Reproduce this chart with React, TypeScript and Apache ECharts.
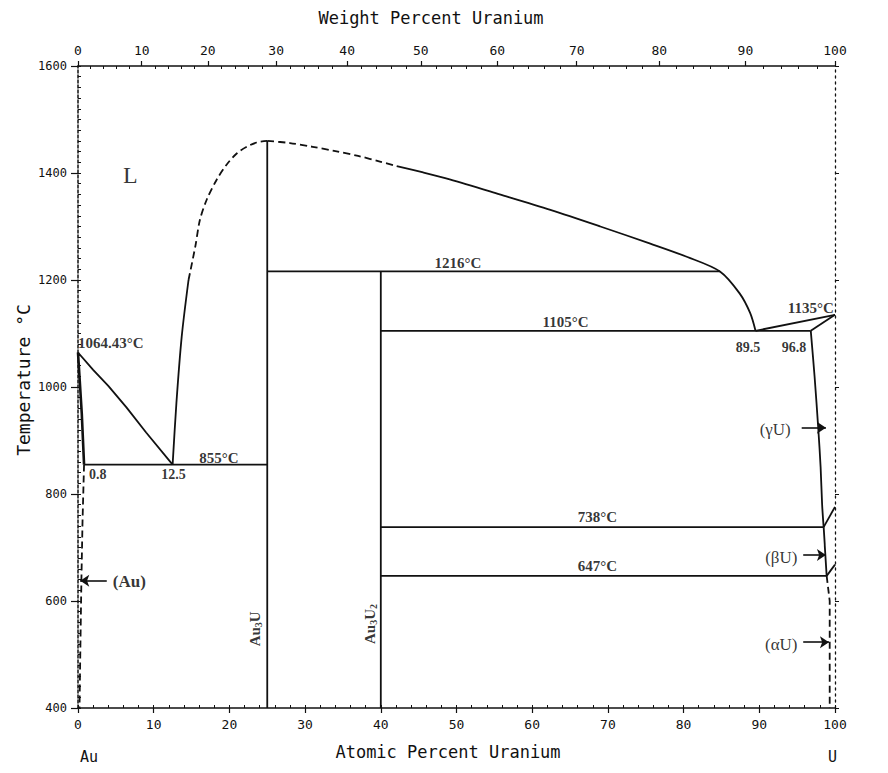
import React, { useEffect, useRef } from "react";
import * as echarts from "echarts";

// Atomic masses used to convert atomic % to weight % for the top axis
const M_AU = 196.97;
const M_U = 238.03;
const atFromWt = (w: number) => {
  if (w <= 0) return 0;
  if (w >= 100) return 100;
  const a = w / M_U;
  const b = (100 - w) / M_AU;
  return (100 * a) / (a + b);
};
const wtFromAt = (x: number) => {
  const a = x * M_U;
  const b = (100 - x) * M_AU;
  return (100 * a) / (a + b);
};

// Tick values
const weightTicks = [0, 10, 20, 30, 40, 50, 60, 70, 80, 90, 100];
const weightMinorTicks = [2, 4, 6, 8, 12, 14, 16, 18, 22, 24, 26, 28, 32, 34, 36, 38, 42, 44, 46, 48, 52, 54, 56, 58, 62, 64, 66, 68, 72, 74, 76, 78, 82, 84, 86, 88, 92, 94, 96, 98];

// Phase boundaries [atomic % U, temperature °C]
const auLiquidus = [[0, 1064.43], [2, 1032], [4, 1002], [6.4, 962], [9, 915], [12.5, 855]];
const auSolidus = [[0, 1064.43], [0.5, 950], [0.8, 855]];
const auSolvus = [[0.8, 855], [0.6, 750], [0.45, 640], [0.3, 500], [0.2, 400]];
const eutectic855 = [[0.8, 855], [25, 855]];
const au3uLiquidusSolid = [[12.5, 855], [13.0, 970], [13.7, 1094], [14.6, 1200]];
const au3uLiquidusDashed = [[14.6, 1200], [15.5, 1263], [16.1, 1312], [17.0, 1350], [18.3, 1387], [19.6, 1415], [21, 1437], [22.3, 1449], [23.6, 1457], [25, 1460]];
const au3uLine = [[25, 1460], [25, 400]];
const liquidusRightDashed = [[25, 1460], [28, 1456], [31, 1449], [34, 1441], [37, 1432], [40, 1421], [42.1, 1413]];
const liquidusRight = [[42.1, 1413], [45.6, 1401], [49.1, 1388], [55.7, 1360], [62.4, 1331], [69, 1300], [75.6, 1268], [80.5, 1243], [84.8, 1216], [87.4, 1175], [88.8, 1138], [89.5, 1105]];
const peritectic1216 = [[25, 1216], [84.8, 1216]];
const au3u2Line = [[40, 1216], [40, 400]];
const eutectic1105 = [[40, 1105], [96.8, 1105]];
const uLiquidus = [[89.5, 1105], [100, 1135]];
const uSolidus = [[96.8, 1105], [100, 1135]];
const gammaSolvus = [[96.8, 1105], [97.3, 1020], [97.8, 920], [98.1, 850], [98.3, 780], [98.5, 738]];
const eutectoid738 = [[40, 738], [98.5, 738]];
const gammaBeta = [[98.5, 738], [100, 776]];
const betaSolvus = [[98.5, 738], [98.9, 647]];
const eutectoid647 = [[40, 647], [98.9, 647]];
const betaAlpha = [[98.9, 647], [100, 668]];
const alphaSolvus = [[98.9, 647], [99.3, 600], [99.3, 400]];

// Annotation texts and their anchor in data coordinates
const annotations = [
  { text: "L", at: [6.9, 1396], size: 24, align: "center", bold: false },
  { text: "1064.43°C", at: [0, 1082], size: 15, align: "left", bold: true },
  { text: "0.8", at: [2.6, 836], size: 14, align: "center", bold: true },
  { text: "12.5", at: [12.6, 836], size: 14, align: "center", bold: true },
  { text: "855°C", at: [18.6, 867], size: 15, align: "center", bold: true },
  { text: "1216°C", at: [50.2, 1232], size: 15, align: "center", bold: true },
  { text: "1105°C", at: [64.4, 1121], size: 15, align: "center", bold: true },
  { text: "89.5", at: [88.5, 1074], size: 14, align: "center", bold: true },
  { text: "96.8", at: [94.6, 1074], size: 14, align: "center", bold: true },
  { text: "1135°C", at: [96.8, 1148], size: 15, align: "center", bold: true },
  { text: "(γU)", at: [92.1, 920], size: 17, align: "center", bold: false },
  { text: "738°C", at: [68.6, 757], size: 15, align: "center", bold: true },
  { text: "647°C", at: [68.6, 665], size: 15, align: "center", bold: true },
  { text: "776°C", at: [100.9, 766], size: 14, align: "left", bold: true },
  { text: "668°C", at: [101.0, 671], size: 14, align: "left", bold: true },
  { text: "(βU)", at: [92.9, 682], size: 17, align: "center", bold: false },
  { text: "(αU)", at: [92.9, 518], size: 17, align: "center", bold: false },
  { text: "(Au)", at: [4.6, 637], size: 17, align: "left", bold: true },
];
const compounds = [
  { parts: ["Au", "3", "U"], at: [23.4, 548] },
  { parts: ["Au", "3", "U", "2"], at: [38.6, 557] },
];
const arrows = [
  { from: [95.6, 924], to: [98.8, 924] },
  { from: [95.8, 686], to: [98.8, 686] },
  { from: [95.8, 523], to: [99.2, 523] },
  { from: [3.8, 638], to: [0.3, 638] },
];

const INK = "#111";
const SERIF = "Liberation Serif";
const MONO = "DejaVu Sans Mono";

const lineSeries = (data: number[][], dashed = false, smooth: number | boolean = false) => ({
  type: "line",
  data,
  xAxisIndex: 0,
  yAxisIndex: 0,
  symbol: "none",
  showSymbol: false,
  smooth,
  silent: true,
  z: 3,
  lineStyle: { color: INK, width: 1.8, type: dashed ? [7, 4] : "solid" },
});

export default function App() {
  const ref = useRef<HTMLDivElement>(null);
  useEffect(() => {
    document.body.style.margin = "0";
    if (!ref.current) return;
    const chart = echarts.init(ref.current, null, { renderer: "svg" });

    const annotationData = annotations.map((a) => ({
      value: a.at,
      name: a.text,
      label: {
        show: true,
        position: "inside",
        align: a.align,
        verticalAlign: "middle",
        formatter: a.text,
        fontFamily: SERIF,
        fontSize: a.size,
        fontWeight: a.bold ? "bold" : "normal",
        color: "#000",
      },
    }));
    const compoundData = compounds.map((c) => ({
      value: c.at,
      name: c.parts.join(""),
      label: {
        show: true,
        position: "inside",
        rotate: 90,
        align: "center",
        verticalAlign: "middle",
        formatter: c.parts.map((p, i) => (i % 2 === 1 ? `{s|${p}}` : `{a|${p}}`)).join(""),
        rich: {
          a: { fontFamily: SERIF, fontSize: 15, fontWeight: "bold", color: "#000" },
          s: { fontFamily: SERIF, fontSize: 10, fontWeight: "bold", color: "#000", padding: [7, 0, 0, 0] },
        },
      },
    }));

    const option: any = {
      animation: false,
      backgroundColor: "#ffffff",
      grid: { left: 78, right: 53, top: 66, bottom: 65, containLabel: false },
      xAxis: [
        {
          type: "value", position: "bottom", min: 0, max: 100, interval: 10,
          axisLine: { show: true, onZero: false, lineStyle: { color: INK, width: 1.5 } },
          axisTick: { show: true, inside: false, length: 5, lineStyle: { color: INK, width: 1.2 } },
          axisLabel: { margin: 10, fontFamily: MONO, fontSize: 13, color: INK },
          splitLine: { show: false },
        },
        {
          type: "value", position: "top", min: 0, max: 100,
          axisLine: { show: true, onZero: false, lineStyle: { color: INK, width: 1.5 } },
          axisTick: { show: true, inside: false, length: 5, customValues: weightTicks.map(atFromWt), lineStyle: { color: INK, width: 1.2 } },
          axisLabel: {
            customValues: weightTicks.map(atFromWt), margin: 9, fontFamily: MONO, fontSize: 13, color: INK,
            formatter: (v: number) => String(Math.round(wtFromAt(v))),
          },
          splitLine: { show: false },
        },
        {
          type: "value", position: "bottom", min: 0, max: 100, interval: 2,
          axisLine: { show: false, onZero: false },
          axisTick: { show: true, inside: true, length: 3, lineStyle: { color: INK, width: 1 } },
          axisLabel: { show: false },
          splitLine: { show: false },
        },
        {
          type: "value", position: "top", min: 0, max: 100,
          axisLine: { show: false, onZero: false },
          axisTick: { show: true, inside: true, length: 3, customValues: weightMinorTicks.map(atFromWt), lineStyle: { color: INK, width: 1 } },
          axisLabel: { show: false },
          splitLine: { show: false },
        },
      ],
      yAxis: [
        {
          type: "value", position: "left", min: 400, max: 1600, interval: 200,
          axisLine: { show: true, onZero: false, lineStyle: { color: INK, width: 1.5, type: [3, 2] } },
          axisTick: { show: true, inside: false, length: 7, lineStyle: { color: INK, width: 1.2 } },
          axisLabel: { margin: 11, fontFamily: MONO, fontSize: 12, color: INK, formatter: (v: number) => String(v) },
          splitLine: { show: false },
        },
        {
          type: "value", position: "left", min: 400, max: 1600, interval: 20,
          axisLine: { show: false, onZero: false },
          axisTick: { show: true, inside: true, length: 3, lineStyle: { color: INK, width: 1 } },
          axisLabel: { show: false },
          splitLine: { show: false },
        },
        {
          type: "value", position: "right", min: 400, max: 1600, interval: 200,
          axisLine: { show: true, onZero: false, lineStyle: { color: INK, width: 1.3, type: [2, 4] } },
          axisTick: { show: true, inside: false, length: 4, lineStyle: { color: INK, width: 1 } },
          axisLabel: { show: false },
          splitLine: { show: false },
        },
      ],
      series: [
        lineSeries(auLiquidus),
        { ...lineSeries(auSolidus), lineStyle: { color: INK, width: 2.6 } },
        lineSeries(auSolvus, true),
        lineSeries(eutectic855),
        lineSeries(au3uLiquidusSolid, false, 0.3),
        lineSeries(au3uLiquidusDashed, true, 0.3),
        lineSeries(au3uLine),
        lineSeries(liquidusRightDashed, true, 0.3),
        lineSeries(liquidusRight, false, 0.3),
        lineSeries(peritectic1216),
        lineSeries(au3u2Line),
        lineSeries(eutectic1105),
        lineSeries(uLiquidus),
        lineSeries(uSolidus),
        lineSeries(gammaSolvus, false, 0.3),
        lineSeries(eutectoid738),
        lineSeries(gammaBeta),
        lineSeries(betaSolvus),
        lineSeries(eutectoid647),
        lineSeries(betaAlpha),
        lineSeries(alphaSolvus, true),
        {
          type: "line",
          data: [],
          symbol: "none",
          silent: true,
          markLine: {
            silent: true,
            symbol: ["none", "arrow"],
            symbolSize: 9,
            label: { show: false },
            lineStyle: { color: INK, width: 1.6, type: "solid" },
            data: arrows.map((a) => [{ coord: a.from }, { coord: a.to }]),
          },
        },
        {
          type: "scatter",
          data: [...annotationData, ...compoundData],
          symbolSize: 1,
          itemStyle: { color: "rgba(0,0,0,0)" },
          silent: true,
          z: 5,
        },
      ],
      graphic: [
        { type: "text", x: 431, y: 18, style: { text: "Weight Percent Uranium", font: `17px '${MONO}'`, fill: INK, align: "center", verticalAlign: "middle" } },
        { type: "text", x: 448, y: 752, style: { text: "Atomic Percent Uranium", font: `17px '${MONO}'`, fill: INK, align: "center", verticalAlign: "middle" } },
        { type: "text", x: 23, y: 380, rotation: Math.PI / 2, style: { text: "Temperature °C", font: `18px '${MONO}'`, fill: INK, align: "center", verticalAlign: "middle" } },
        { type: "text", x: 80, y: 757, style: { text: "Au", font: `15px '${MONO}'`, fill: INK, align: "left", verticalAlign: "middle" } },
        { type: "text", x: 828, y: 757, style: { text: "U", font: `15px '${MONO}'`, fill: INK, align: "left", verticalAlign: "middle" } },
      ],
    };
    chart.setOption(option);
    return () => chart.dispose();
  }, []);
  return <div ref={ref} style={{ width: 888, height: 773 }} />;
}
